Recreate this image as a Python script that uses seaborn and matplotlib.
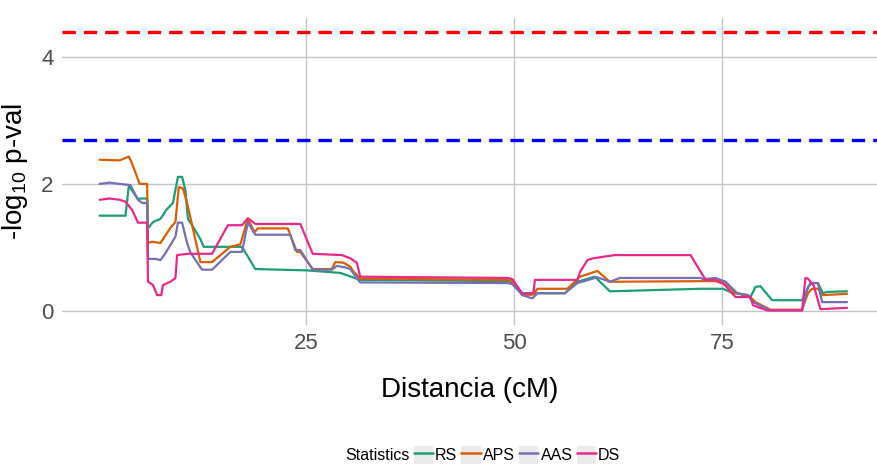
import pandas as pd
import seaborn as sns
import matplotlib.pyplot as plt
from matplotlib.lines import Line2D
from matplotlib.patches import Rectangle

# traces (x in cM, y = -log10 p)
rs_x = [0.2, 3.3, 3.7, 4.8, 5.1, 5.9, 6.0, 6.3, 6.6, 7.5, 8.2, 9.0, 9.6, 10.1, 10.5, 10.8, 11.3,
        12.3, 12.7, 17.3, 18.9, 25.0, 29.1, 30.6, 31.5, 49.3, 49.8, 51.0, 52.3, 56.1, 57.6, 59.7,
        61.5, 72.4, 75.1, 76.3, 76.8, 78.4, 79.0, 79.6, 81.0, 84.6, 85.6, 86.5, 87.1, 87.6, 90.0]
rs_y = [1.50, 1.50, 1.97, 1.76, 1.77, 1.77, 1.30, 1.35, 1.40, 1.45, 1.59, 1.70, 2.11, 2.11, 1.90, 1.45, 1.35,
        1.13, 1.01, 1.01, 0.66, 0.64, 0.60, 0.53, 0.49, 0.47, 0.45, 0.28, 0.28, 0.28, 0.46, 0.54,
        0.31, 0.35, 0.35, 0.28, 0.28, 0.22, 0.38, 0.39, 0.17, 0.17, 0.44, 0.44, 0.28, 0.30, 0.31]

aps_x = [0.2, 2.6, 3.7, 4.0, 5.0, 5.9, 6.0, 6.5, 7.5, 8.7, 9.3, 9.7, 10.2, 10.7, 12.3, 13.7, 15.9,
         17.1, 18.0, 18.8, 19.2, 22.8, 23.9, 24.3, 25.8, 28.1, 28.5, 29.5, 30.3, 30.7, 31.5, 49.3,
         49.8, 51.0, 52.3, 52.8, 56.4, 57.9, 60.0, 61.5, 72.7, 74.2, 75.6, 76.6, 78.1, 79.0, 80.8,
         84.6, 85.3, 85.8, 86.5, 87.1, 90.0]
aps_y = [2.38, 2.37, 2.43, 2.35, 2.00, 2.00, 1.07, 1.09, 1.07, 1.31, 1.40, 1.95, 1.93, 1.70, 0.77, 0.77, 1.01,
         1.05, 1.45, 1.24, 1.30, 1.30, 0.93, 0.93, 0.66, 0.66, 0.77, 0.76, 0.70, 0.62, 0.51, 0.49,
         0.47, 0.25, 0.26, 0.35, 0.35, 0.54, 0.63, 0.46, 0.47, 0.47, 0.41, 0.28, 0.25, 0.14, 0.02,
         0.02, 0.28, 0.35, 0.35, 0.25, 0.27]

aas_x = [0.2, 1.4, 2.6, 3.9, 4.8, 5.3, 5.9, 6.0, 6.9, 7.5, 8.1, 9.3, 9.6, 10.1, 10.7, 11.1, 12.5,
         13.7, 15.9, 17.3, 18.0, 18.9, 23.1, 23.7, 24.3, 25.8, 28.1, 28.7, 29.9, 30.3, 31.1, 31.5,
         49.3, 49.8, 51.0, 51.9, 52.2, 52.8, 56.1, 57.6, 60.0, 61.5, 62.7, 72.4, 72.7, 74.2, 75.4,
         76.8, 78.1, 78.7, 80.8, 84.6, 85.3, 85.8, 86.5, 87.0, 90.0]
aas_y = [2.00, 2.02, 2.00, 1.98, 1.75, 1.70, 1.70, 0.82, 0.82, 0.80, 0.91, 1.17, 1.39, 1.39, 1.07, 0.92, 0.65,
         0.65, 0.93, 0.93, 1.39, 1.20, 1.20, 0.96, 0.96, 0.65, 0.65, 0.71, 0.68, 0.66, 0.52, 0.45,
         0.44, 0.42, 0.25, 0.21, 0.20, 0.28, 0.28, 0.44, 0.53, 0.46, 0.52, 0.52, 0.50, 0.52, 0.46,
         0.28, 0.25, 0.14, 0.01, 0.01, 0.38, 0.44, 0.44, 0.14, 0.14]

ds_x = [0.2, 1.4, 2.6, 3.3, 4.1, 4.8, 5.9, 6.0, 6.6, 7.1, 7.6, 7.8, 8.7, 9.3, 9.5, 10.8, 13.7,
        15.6, 17.3, 18.0, 18.9, 24.3, 25.8, 29.3, 30.3, 31.1, 31.5, 49.3, 49.8, 51.0, 52.3, 52.5,
        57.6, 57.9, 58.8, 59.5, 62.1, 71.2, 73.0, 74.2, 75.1, 76.6, 78.4, 78.7, 80.4, 84.6, 85.0,
        85.3, 86.0, 86.8, 90.0]
ds_y = [1.75, 1.77, 1.75, 1.72, 1.59, 1.39, 1.39, 0.46, 0.41, 0.25, 0.25, 0.41, 0.46, 0.52, 0.88, 0.90, 0.90,
        1.35, 1.35, 1.46, 1.37, 1.37, 0.90, 0.88, 0.83, 0.76, 0.54, 0.52, 0.50, 0.27, 0.28, 0.49,
        0.49, 0.61, 0.80, 0.83, 0.88, 0.88, 0.49, 0.49, 0.44, 0.22, 0.22, 0.09, 0.01, 0.01, 0.52,
        0.51, 0.40, 0.03, 0.05]

stats = ['RS', 'APS', 'AAS', 'DS']
colors = ['#1B9E77', '#D95F02', '#7570B3', '#E7298A']
thr_red = 4.39
thr_blue = 2.69

# long format for seaborn
frames = []
for name, xs, ys in zip(stats, [rs_x, aps_x, aas_x, ds_x], [rs_y, aps_y, aas_y, ds_y]):
    frames.append(pd.DataFrame({'pos': xs, 'val': ys, 'Statistics': name}))
df = pd.concat(frames, ignore_index=True)

sns.set_style('white')
plt.rcParams['font.family'] = ['Liberation Sans', 'DejaVu Sans']

fig = plt.figure(figsize=(8.77, 4.65), dpi=100)
ax = fig.add_axes([62 / 877, 1 - 325 / 465, 1 - 62 / 877, (325 - 18) / 465])

sns.lineplot(data=df, x='pos', y='val', hue='Statistics', hue_order=stats,
             palette=colors, estimator=None, sort=False, linewidth=1.6, legend=False, ax=ax)
ax.axhline(thr_red, color='#FF0000', linestyle=(0, (4, 2.4)), linewidth=2.4)
ax.axhline(thr_blue, color='#0000FF', linestyle=(0, (4, 2.4)), linewidth=2.4)

ax.set_xlim(-4.33, 93.6)
ax.set_ylim(-0.22, 4.61)
ax.set_xticks([25, 50, 75])
ax.set_yticks([0, 2, 4])
ax.grid(True, color='#C4C4C4', linewidth=1.0)
ax.set_axisbelow(True)
sns.despine(ax=ax, left=True, bottom=True)
ax.tick_params(axis='both', length=3, width=0.8, color='#C4C4C4', labelsize=16, labelcolor='#4D4D4D', pad=3)

ax.set_xlabel('Distancia (cM)', fontsize=20, labelpad=16, color='black')
ax.set_ylabel(r'-log$_{\mathregular{10}}$ p-val', fontsize=20, labelpad=8, color='black')

# legend with title on the left and grey key boxes
handles = [Rectangle((0, 0), 0, 0, alpha=0)]
labels = ['Statistics']
for name, c in zip(stats, colors):
    handles.append((Rectangle((0, 0), 1, 1, facecolor='#EBEBEB', edgecolor='none'),
                    Line2D([], [], color=c, linewidth=1.8)))
    labels.append(name)
leg = fig.legend(handles, labels, loc='center', bbox_to_anchor=(472 / 877, 1 - 455 / 465),
                 ncol=5, frameon=False, fontsize=11.5, handlelength=1.2, handleheight=1.3,
                 handletextpad=0.15, columnspacing=0.25, labelcolor='black')

fig.savefig('out.png', dpi=100)
